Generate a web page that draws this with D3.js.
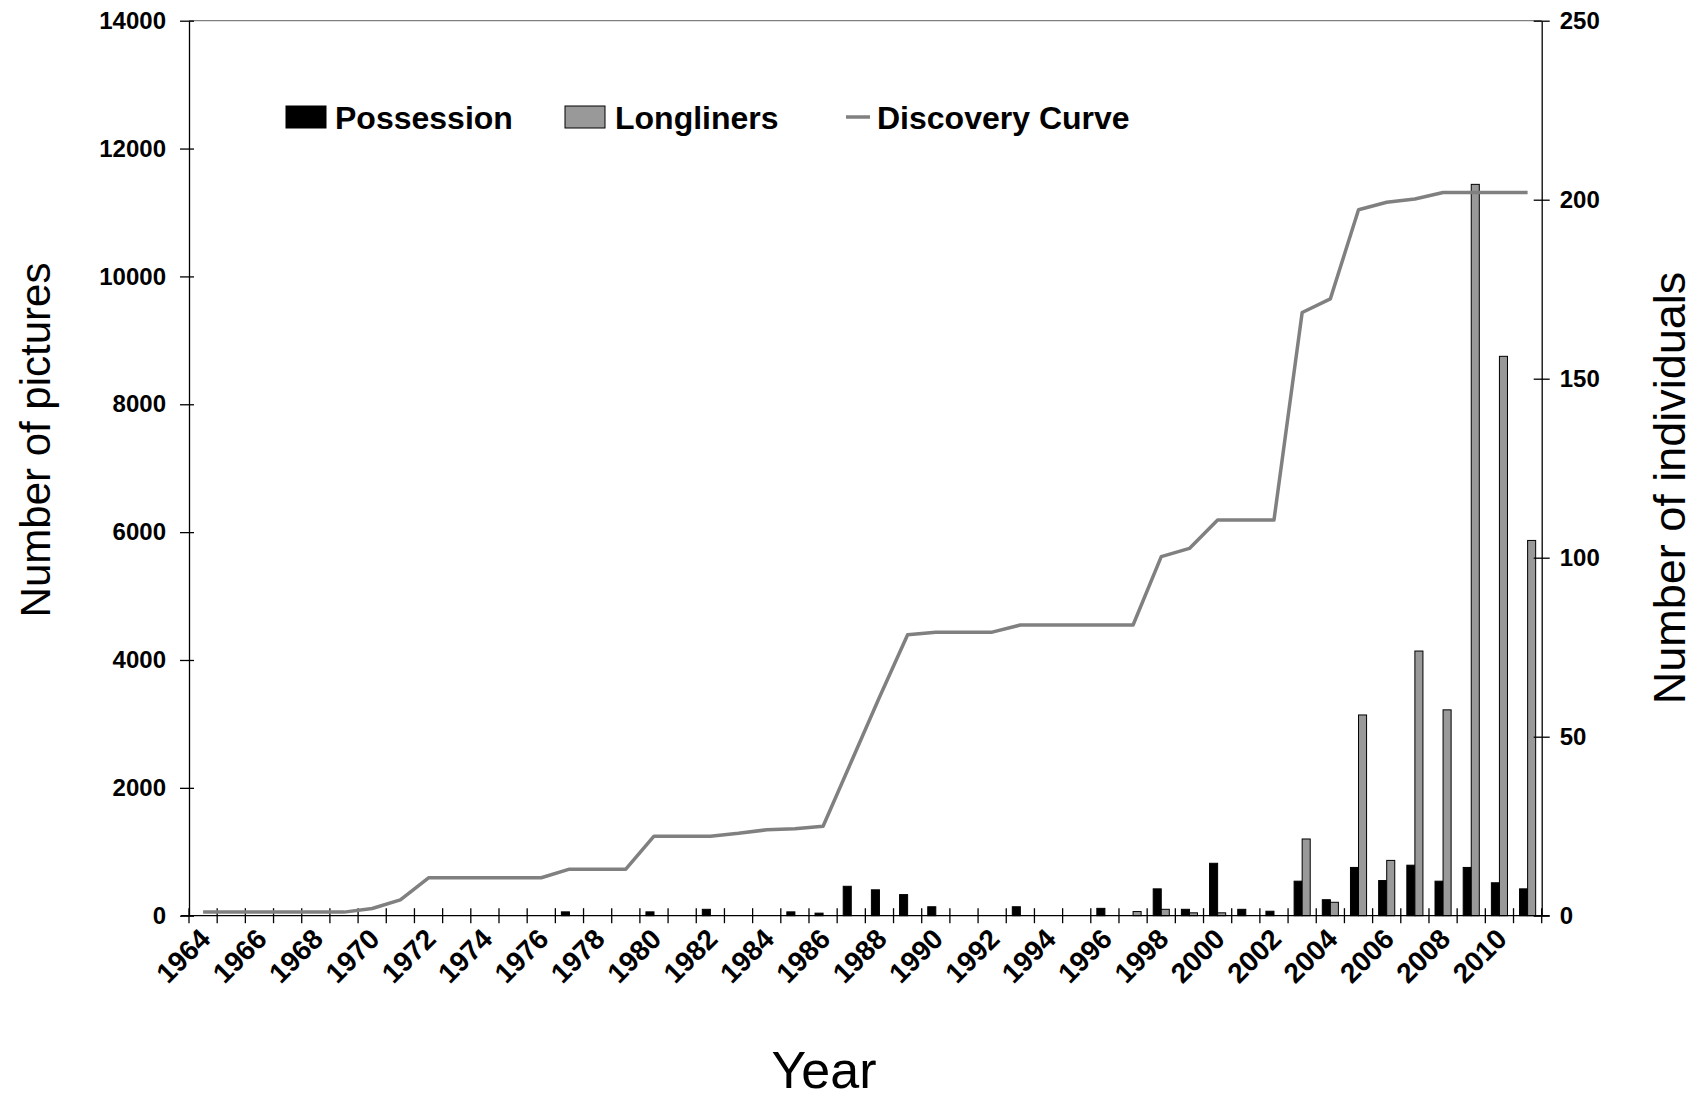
<!DOCTYPE html>
<html><head><meta charset="utf-8">
<script src="https://cdn.jsdelivr.net/npm/d3@7"></script>
<style>body{margin:0;background:#fff}svg{display:block}text{font-family:"Liberation Sans",Arial,sans-serif}</style>
</head><body><svg id="c" width="1702" height="1101"></svg>
<script>
const years = ["1964","1965","1966","1967","1968","1969","1970","1971","1972","1973","1974","1975","1976","1977","1978","1979","1980","1981","1982","1983","1984","1985","1986","1987","1988","1989","1990","1991","1992","1993","1994","1995","1996","1997","1998","1999","2000","2001","2002","2003","2004","2005","2006","2007","2008","2009","2010","2011"];
const possession = [0,0,0,0,0,0,0,0,0,0,0,0,0,60,0,0,60,0,100,0,0,60,40,460,405,330,140,0,0,140,0,0,115,0,420,100,820,100,70,540,250,755,550,790,540,755,515,420];
const longliners = [0,0,0,0,0,0,0,0,0,0,0,0,0,0,0,0,0,0,0,0,0,0,0,0,0,0,0,0,0,0,0,0,0,65,100,45,45,0,0,1200,210,3140,865,4140,3220,11440,8750,5870];
const discovery = [1,1,1,1,1,1,2,4.4,10.6,10.6,10.6,10.6,10.6,13,13,13,22.2,22.2,22.2,23,24,24.3,25,43,61,78.5,79.2,79.2,79.2,81.2,81.2,81.2,81.2,81.2,100.3,102.6,110.5,110.5,110.5,168.5,172.3,197.2,199.3,200.2,202,202,202,202];
const leftTicks = [0,2000,4000,6000,8000,10000,12000,14000];
const rightTicks = [0,50,100,150,200,250];
const yearLabels = ["1964","1966","1968","1970","1972","1974","1976","1978","1980","1982","1984","1986","1988","1990","1992","1994","1996","1998","2000","2002","2004","2006","2008","2010"];
const seriesNames = ["Possession","Longliners"];
const seriesColors = {"Possession":"#000000","Longliners":"#999999"};
const lineColor = "#808080";

const svg = d3.select("#c");
const L=189, R=1541.7, T=20.7, B=915.7;
const x0 = d3.scaleBand().domain(years).range([L,R]).padding(0);
const x1 = d3.scaleBand().domain(seriesNames).range([0,x0.bandwidth()]).paddingInner(0).paddingOuter(0.75);
const yL = d3.scaleLinear().domain([0,14000]).range([B,T]);
const yR = d3.scaleLinear().domain([0,250]).range([B,T]);

// top frame line
svg.append("line").attr("x1",L).attr("x2",R).attr("y1",T).attr("y2",T).attr("stroke","#808080").attr("stroke-width",1.2);

// bars
const rows = years.map((y,i)=>({year:y, vals:[{s:"Possession",v:possession[i]},{s:"Longliners",v:longliners[i]}]}));
const g = svg.append("g");
g.selectAll("g.yr").data(rows).join("g").attr("class","yr")
 .attr("transform",d=>`translate(${x0(d.year)},0)`)
 .selectAll("rect").data(d=>d.vals.filter(v=>v.v>0)).join("rect")
 .attr("x",d=>x1(d.s)).attr("width",x1.bandwidth())
 .attr("y",d=>yL(d.v)).attr("height",d=>B-yL(d.v))
 .attr("fill",d=>seriesColors[d.s]).attr("stroke","#000").attr("stroke-width",1);

// x axis
svg.append("line").attr("x1",L-8).attr("x2",R+8).attr("y1",B).attr("y2",B).attr("stroke","#000").attr("stroke-width",1.3);
const bounds = years.map(y=>x0(y)).concat([x0(years[years.length-1])+x0.bandwidth()]);
svg.append("g").selectAll("line").data(bounds).join("line")
 .attr("x1",d=>d).attr("x2",d=>d).attr("y1",B-7.5).attr("y2",B+7.5).attr("stroke","#000").attr("stroke-width",1.3);
svg.append("g").selectAll("text").data(yearLabels).join("text")
 .attr("transform",d=>`translate(${x0(d)+x0.bandwidth()/2+9},${B+25}) rotate(-45)`)
 .attr("text-anchor","end").attr("font-size",28).attr("font-weight","bold").text(d=>d);

// left axis
const ax = svg.append("g").attr("transform",`translate(${L},0)`)
 .call(d3.axisLeft(yL).tickValues(leftTicks).tickSizeInner(9).tickSizeOuter(0).tickPadding(14).tickFormat(d3.format("d")));
ax.select(".domain").attr("stroke","#000").attr("stroke-width",1.3);
ax.selectAll(".tick line").attr("x1",5).attr("stroke","#000").attr("stroke-width",1.3);
ax.selectAll(".tick text").attr("font-size",24).attr("font-weight","bold").attr("fill","#000").style("font-family","'Liberation Sans',Arial,sans-serif");

// right axis
const ar = svg.append("g").attr("transform",`translate(${R},0)`)
 .call(d3.axisRight(yR).tickValues(rightTicks).tickSizeInner(8).tickSizeOuter(0).tickPadding(10));
ar.select(".domain").attr("stroke","#000").attr("stroke-width",1.3);
ar.selectAll(".tick line").attr("x1",-8).attr("stroke","#000").attr("stroke-width",1.3);
ar.selectAll(".tick text").attr("font-size",24).attr("font-weight","bold").attr("fill","#000").style("font-family","'Liberation Sans',Arial,sans-serif");

// discovery line
const line = d3.line().x((d,i)=>x0(years[i])+x0.bandwidth()/2).y(d=>yR(d));
svg.append("path").datum(discovery).attr("d",line).attr("fill","none").attr("stroke",lineColor).attr("stroke-width",3.5).attr("stroke-linejoin","round");

// legend
const lg = svg.append("g").attr("font-size",32).attr("font-weight","bold");
lg.append("rect").attr("x",286).attr("y",106).attr("width",40).attr("height",22).attr("fill",seriesColors["Possession"]).attr("stroke","#000");
lg.append("text").attr("x",335).attr("y",129).text(seriesNames[0]);
lg.append("rect").attr("x",565).attr("y",106).attr("width",40).attr("height",22).attr("fill",seriesColors["Longliners"]).attr("stroke","#000");
lg.append("text").attr("x",615).attr("y",129).text(seriesNames[1]);
lg.append("line").attr("x1",846).attr("x2",870).attr("y1",117).attr("y2",117).attr("stroke",lineColor).attr("stroke-width",3.5);
lg.append("text").attr("x",877).attr("y",129).text("Discovery Curve");

// axis titles
svg.append("text").attr("transform","translate(50,440) rotate(-90)").attr("text-anchor","middle").attr("font-size",42).text("Number of pictures");
svg.append("text").attr("transform","translate(1685,488) rotate(-90)").attr("text-anchor","middle").attr("font-size",45).text("Number of individuals");
svg.append("text").attr("x",824).attr("y",1088).attr("text-anchor","middle").attr("font-size",52).text("Year");
</script></body></html>
